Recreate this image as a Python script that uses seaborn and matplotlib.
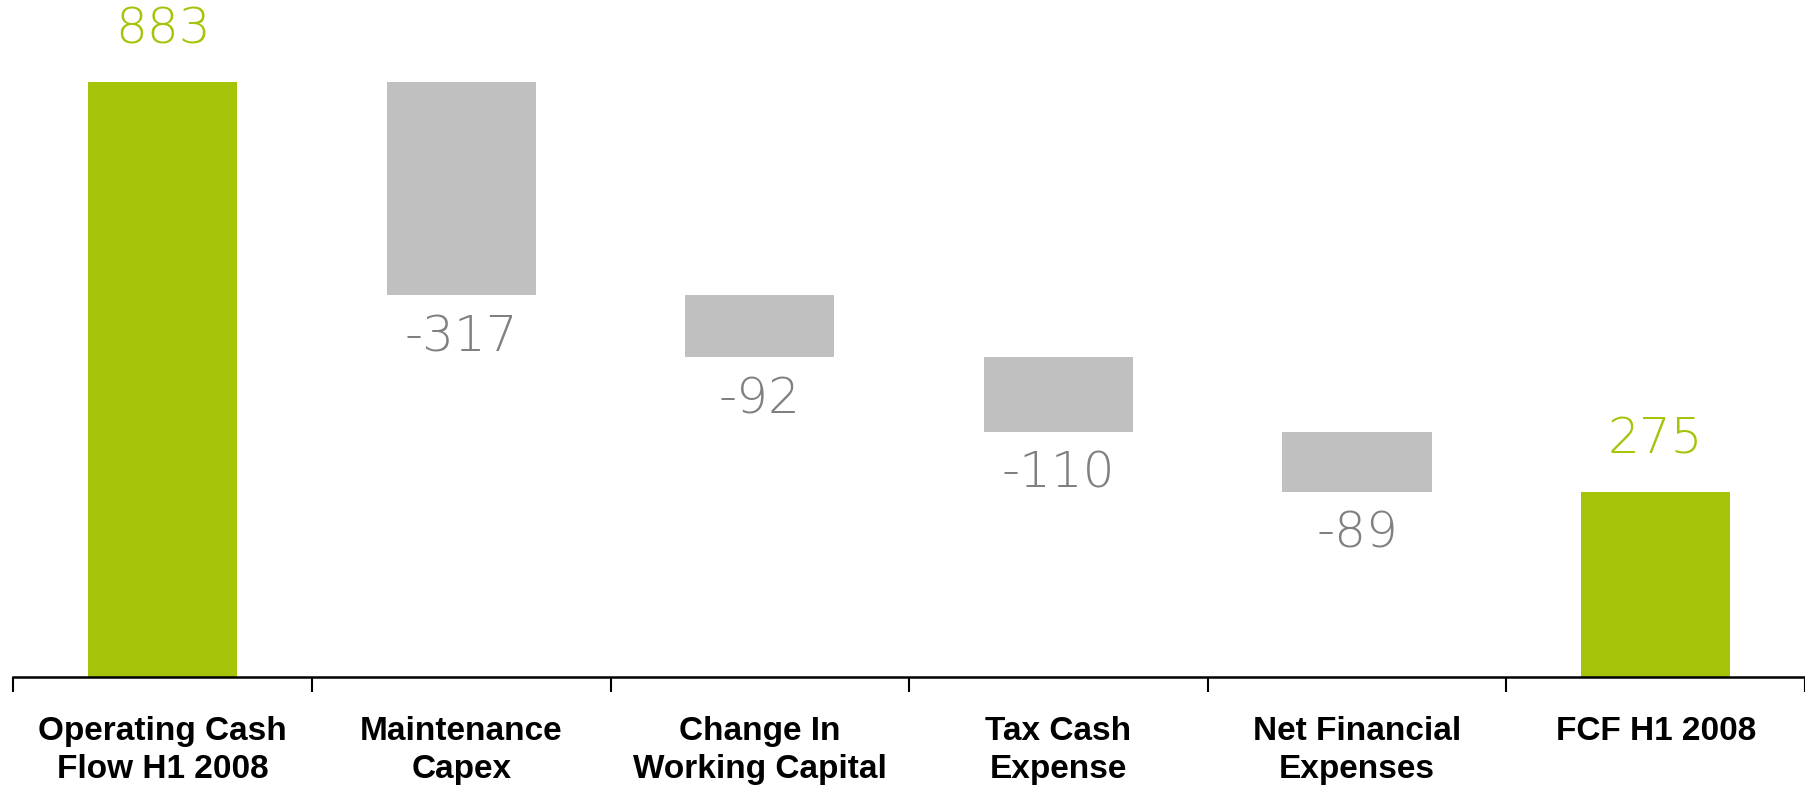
import matplotlib
matplotlib.use("Agg")
import matplotlib.pyplot as plt
from matplotlib import font_manager
import seaborn as sns
import pandas as pd
import numpy as np

categories = ["Operating Cash\nFlow H1 2008", "Maintenance\nCapex", "Change In\nWorking Capital",
              "Tax Cash\nExpense", "Net Financial\nExpenses", "FCF H1 2008"]
values = [883, -317, -92, -110, -89, 275]
is_total = [True, False, False, False, False, True]

GREEN = "#A5C309"
GRAY = "#C0C0C0"
LABEL_GRAY = "#808080"

# waterfall geometry from the values
bottoms, heights = [], []
running = 0
for v, t in zip(values, is_total):
    if t:
        bottoms.append(0)
        heights.append(v)
        running = v
    else:
        bottoms.append(running + v)
        heights.append(-v)
        running = running + v

df = pd.DataFrame({"cat": categories, "height": heights, "bottom": bottoms})
colors = [GREEN if t else GRAY for t in is_total]

sns.set_theme(style="white")
avail = {f.name for f in font_manager.fontManager.ttflist}
cat_font = "Liberation Sans Narrow" if "Liberation Sans Narrow" in avail else "Liberation Sans"

fig = plt.figure(figsize=(18.05, 7.92), dpi=100)
ax = fig.add_axes([13.3 / 1805, 115 / 792, 1 - 13.3 / 1805, 1 - 115 / 792])

sns.barplot(data=df, x="cat", y="height", color=GRAY, order=categories,
            bottom=df["bottom"].to_numpy(), width=0.5, saturation=1, ax=ax, linewidth=0)
for patch, c in zip(ax.patches, colors):
    patch.set_facecolor(c)
    patch.set_edgecolor(c)

ax.set_xlim(-0.5, 5.482)
ax.set_ylim(0, 1004)
for s in ["top", "right", "left"]:
    ax.spines[s].set_visible(False)
ax.spines["bottom"].set_linewidth(1.8)
ax.spines["bottom"].set_color("black")
ax.set_yticks([])
ax.set_xlabel("")
ax.set_ylabel("")

ax.set_xticks(np.arange(-0.5, 6, 1.0), minor=True)
ax.tick_params(axis="x", which="minor", bottom=True, length=11, width=1.5, color="black", direction="out")
ax.tick_params(axis="x", which="major", bottom=True, length=0, pad=28)
ax.set_xticks(range(len(categories)))
ax.set_xticklabels(categories, fontsize=24, fontweight="bold", family=cat_font,
                   linespacing=1.3, color="black")

for i, (v, t, b, h) in enumerate(zip(values, is_total, bottoms, heights)):
    if v >= 0:
        ax.annotate(f"{v}", (i, b + h), xytext=(0, 52), textcoords="offset pixels",
                    ha="center", va="center", fontsize=36, color=GREEN,
                    family="DejaVu Sans", fontweight="light")
    else:
        ax.annotate(f"{v}", (i, b), xytext=(0, -42), textcoords="offset pixels",
                    ha="center", va="center", fontsize=36, color=LABEL_GRAY,
                    family="DejaVu Sans", fontweight="light")

fig.savefig("out.png", dpi=100)
